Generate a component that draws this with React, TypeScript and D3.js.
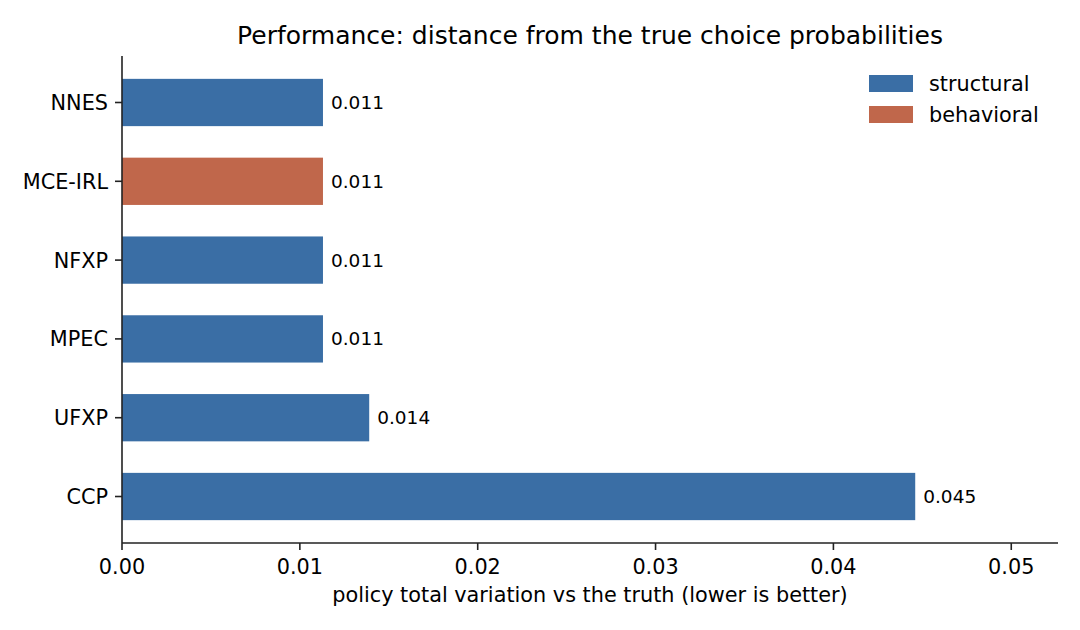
import * as d3 from 'd3';

// Policy distance per estimator, top to bottom
const methods = ['NNES', 'MCE-IRL', 'NFXP', 'MPEC', 'UFXP', 'CCP'];
const tvDistance = [0.0113, 0.0113, 0.0113, 0.0113, 0.0139, 0.0446];
const families = ['structural', 'behavioral', 'structural', 'structural', 'structural', 'structural'];
const xTicks = [0, 0.01, 0.02, 0.03, 0.04, 0.05];

const COLORS: Record<string, string> = {
  structural: '#3a6ea5',
  behavioral: '#c0674b',
};

const W = 1080;
const H = 630;
const M = { left: 122, right: 1058, top: 56, bottom: 543 };
const FONT = '"DejaVu Sans", sans-serif';
const AXIS = '#222';
const FS = 20.8;

export default function App() {
  const x = d3.scaleLinear().domain([0, d3.max(tvDistance)! * 1.18]).range([M.left, M.right]);
  const y = d3.scaleLinear().domain([-0.59, methods.length - 1 + 0.59]).range([M.top, M.bottom]);
  const step = y(1) - y(0);
  const barH = step * 0.6;
  const legendItems = ['structural', 'behavioral'];

  return (
    <svg width={W} height={H} style={{ position: 'absolute', left: 0, top: 0 }} fontFamily={FONT}>
      <rect width={W} height={H} fill="#fff" />

      <text x={(M.left + M.right) / 2} y={44} textAnchor="middle" fontSize={25} fill="#000">
        Performance: distance from the true choice probabilities
      </text>

      {/* bars + value labels */}
      {methods.map((m, i) => (
        <g key={m}>
          <rect
            x={x(0)}
            y={y(i) - barH / 2}
            width={x(tvDistance[i]) - x(0)}
            height={barH}
            fill={COLORS[families[i]]}
          />
          <text x={x(tvDistance[i]) + 8} y={y(i)} dy="0.35em" fontSize={18.5} fill="#000">
            {tvDistance[i].toFixed(3)}
          </text>
        </g>
      ))}

      {/* y axis */}
      <line x1={M.left} x2={M.left} y1={M.top} y2={M.bottom} stroke={AXIS} strokeWidth={1.6} />
      {methods.map((m, i) => (
        <g key={m}>
          <line x1={M.left - 7} x2={M.left} y1={y(i)} y2={y(i)} stroke={AXIS} strokeWidth={1.6} />
          <text x={M.left - 14} y={y(i)} dy="0.36em" textAnchor="end" fontSize={FS} fill="#000">
            {m}
          </text>
        </g>
      ))}

      {/* x axis */}
      <line x1={M.left} x2={M.right} y1={M.bottom} y2={M.bottom} stroke={AXIS} strokeWidth={1.6} />
      {xTicks.map(t => (
        <g key={t}>
          <line x1={x(t)} x2={x(t)} y1={M.bottom} y2={M.bottom + 7} stroke={AXIS} strokeWidth={1.6} />
          <text x={x(t)} y={574} textAnchor="middle" fontSize={FS} fill="#000">
            {t.toFixed(2)}
          </text>
        </g>
      ))}
      <text x={(M.left + M.right) / 2} y={602} textAnchor="middle" fontSize={FS} fill="#000">
        policy total variation vs the truth (lower is better)
      </text>

      {/* legend */}
      {legendItems.map((k, i) => (
        <g key={k} transform={`translate(869, ${75 + i * 31})`}>
          <rect width={44} height={17} fill={COLORS[k]} />
          <text x={60} y={8.5} dy="0.35em" fontSize={FS} fill="#000">
            {k}
          </text>
        </g>
      ))}
    </svg>
  );
}
